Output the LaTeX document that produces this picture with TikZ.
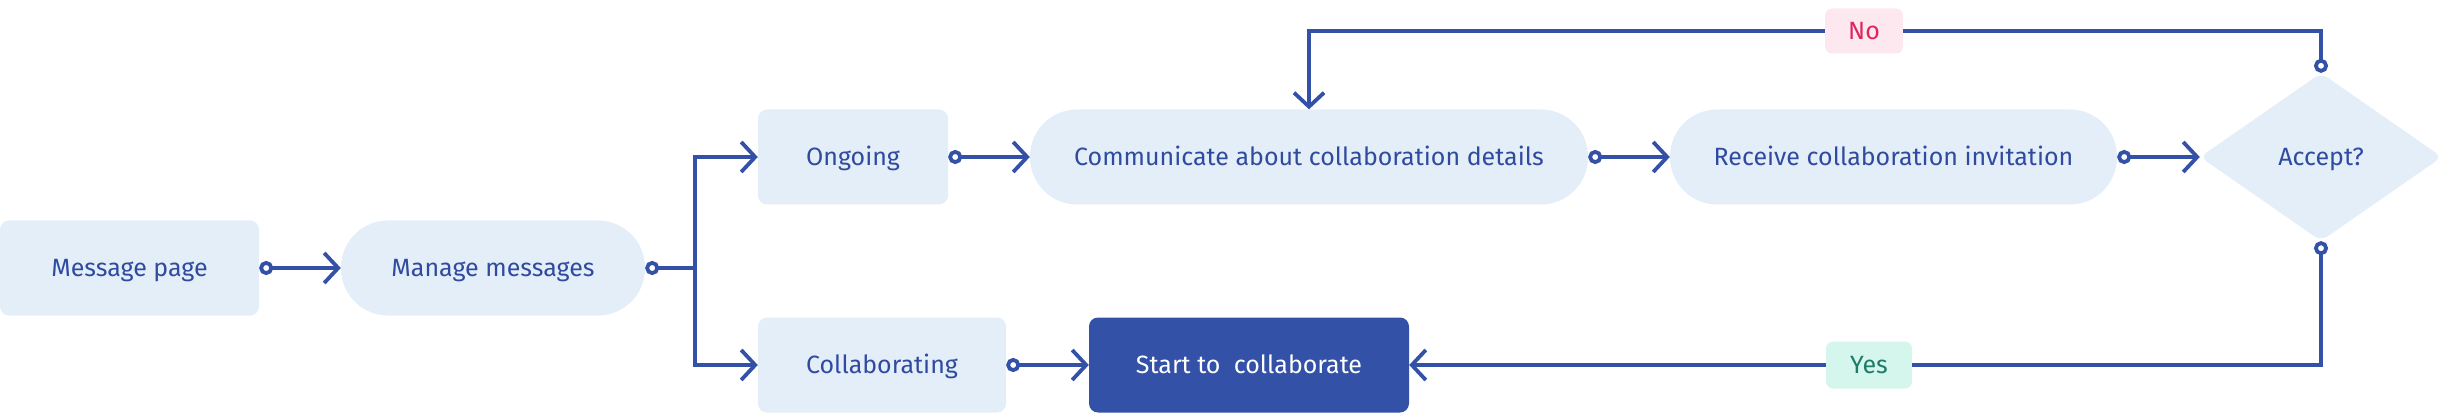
\documentclass[tikz,border=0pt]{standalone}
\usepackage{fontspec}
\setmainfont{Fira Sans}
\usetikzlibrary{arrows.meta,shapes.geometric}
\definecolor{ln}{HTML}{3351A7}
\definecolor{tx}{HTML}{2F4B9F}
\definecolor{lf}{HTML}{E4EEF9}
\definecolor{dk}{HTML}{3351A7}
\definecolor{nof}{HTML}{FDE8F0}
\definecolor{notx}{HTML}{E0245E}
\definecolor{yesf}{HTML}{D4F6EC}
\definecolor{yestx}{HTML}{1E7B6B}
\begin{document}
\begin{tikzpicture}[x=1pt,y=-1pt,
  txt/.style={font=\fontsize{25}{30}\selectfont,text height=17.5pt,text depth=0pt},
  box/.style={txt,fill=lf,text=tx,rounded corners=9pt,minimum height=95pt,inner sep=0pt},
  stad/.style={box,rounded corners=47pt},
  dec/.style={txt,diamond,fill=lf,text=tx,minimum width=242pt,minimum height=168pt,aspect=1.44,inner sep=0pt,rounded corners=8pt},
  lab/.style={txt,rounded corners=7pt,inner sep=0pt},
  base/.style={draw=ln,line width=3.8pt},
  carr/.style={base,{Circle[open,length=14pt,width=14pt,fill=white]}-{Straight Barb[length=14pt,width=30pt]}},
  cl/.style={base,{Circle[open,length=14pt,width=14pt,fill=white]}-},
  arr/.style={base,-{Straight Barb[length=14pt,width=30pt]}}
]
\useasboundingbox (0,0) rectangle (2450,414);
\node[box,minimum width=259pt] (mp) at (129.5,268) {Message page};
\node[stad,minimum width=304pt] (mm) at (493,268) {Manage messages};
\node[box,minimum width=190pt] (og) at (853,157) {Ongoing};
\node[box,minimum width=248pt] (co) at (882,365) {Collaborating};
\node[stad,minimum width=558pt] (cm) at (1309,157) {Communicate about collaboration details};
\node[stad,minimum width=447pt] (rc) at (1893.5,157) {Receive collaboration invitation};
\node[dec] (acc) at (2321,157) {Accept?};
\node[box,fill=dk,text=white,minimum width=320pt] (st) at (1249,365) {Start to\ \ collaborate};
\node[lab,fill=nof,text=notx,minimum width=78pt,minimum height=45pt] (no) at (1864,31) {No};
\node[lab,fill=yesf,text=yestx,minimum width=86pt,minimum height=47pt] (yes) at (1869,365) {Yes};
\coordinate (br) at (695,268);
\draw[carr] (mp.east) -- (mm.west);
\draw[cl] (mm.east) -- (br);
\draw[arr] (br) |- (og.west);
\draw[arr] (br) |- (co.west);
\draw[carr] (og.east) -- (cm.west);
\draw[carr] (cm.east) -- (rc.west);
\draw[carr] (rc.east) -- (acc.west);
\draw[carr] (co.east) -- (st.west);
\draw[cl] (acc.north) |- (no.east);
\draw[arr] (no.west) -| (cm.north);
\draw[cl] (acc.south) |- (yes.east);
\draw[arr] (yes.west) -- (st.east);
\end{tikzpicture}
\end{document}
